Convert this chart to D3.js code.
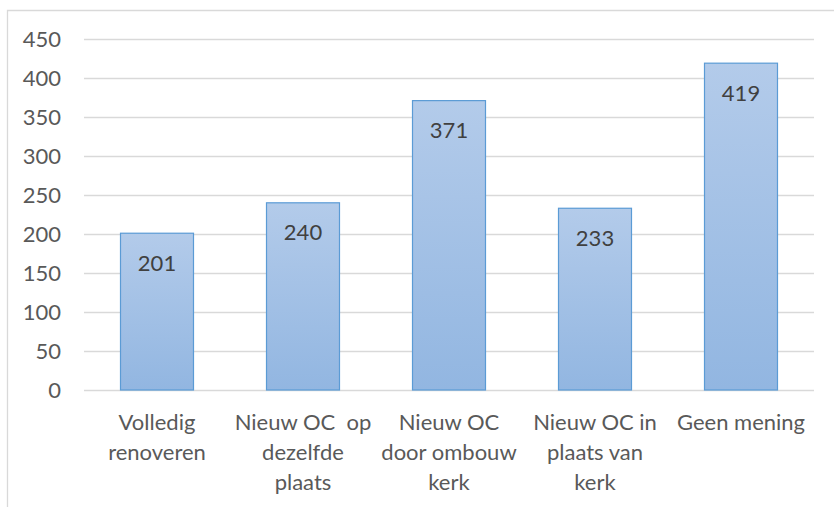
<!DOCTYPE html>
<html lang="nl">
	<head>
		<meta charset="utf-8">
		<title>Bar chart</title>
		<script src="https://cdn.jsdelivr.net/npm/d3@7"></script>
		<style>
			body { margin: 0; background: #fff; }
			text { font-family: Lato, "Open Sans", sans-serif; white-space: pre; }
		</style>
	</head>
	<body>
		<script>
			//Data
			var categories = ["Volledig renoveren", "Nieuw OC  op dezelfde plaats", "Nieuw OC door ombouw kerk", "Nieuw OC in plaats van kerk", "Geen mening"];
			var labelLines = [["Volledig", "renoveren"], ["Nieuw OC  op", "dezelfde", "plaats"], ["Nieuw OC", "door ombouw", "kerk"], ["Nieuw OC in", "plaats van", "kerk"], ["Geen mening"]];
			var values = [201, 240, 371, 233, 419];
			var yTicks = [0, 50, 100, 150, 200, 250, 300, 350, 400, 450];

			var w = 834, h = 507;
			var plotLeft = 84, plotRight = 814, plotTop = 39, plotBottom = 390;

			var svg = d3.select("body").append("svg")
				.attr("width", w)
				.attr("height", h);

			//Chart border (cropped at right and bottom)
			svg.append("path")
				.attr("d", "M7.5," + h + "V10.5H" + w)
				.attr("fill", "none")
				.attr("stroke", "#d9d9d9")
				.attr("stroke-width", 1.3);

			var grad = svg.append("defs").append("linearGradient")
				.attr("id", "barGrad")
				.attr("x1", 0).attr("y1", 0).attr("x2", 0).attr("y2", 1);
			grad.append("stop").attr("offset", "0%").attr("stop-color", "#b3cbea");
			grad.append("stop").attr("offset", "100%").attr("stop-color", "#92b6e1");

			var xScale = d3.scaleBand()
				.domain(categories)
				.range([plotLeft, plotRight])
				.paddingInner(0.5)
				.paddingOuter(0.25);

			var yScale = d3.scaleLinear()
				.domain([0, 450])
				.range([plotBottom, plotTop]);

			//Gridlines
			svg.append("g")
				.selectAll("line")
				.data(yTicks)
				.enter()
				.append("line")
				.attr("x1", plotLeft)
				.attr("x2", plotRight)
				.attr("y1", function(d) { return Math.round(yScale(d)) + 0.5; })
				.attr("y2", function(d) { return Math.round(yScale(d)) + 0.5; })
				.attr("stroke", "#d9d9d9")
				.attr("stroke-width", 1.3);

			//Y axis labels
			var yAxis = d3.axisLeft(yScale)
				.tickValues(yTicks)
				.tickSize(0)
				.tickPadding(0);
			var yg = svg.append("g")
				.attr("transform", "translate(61,0)")
				.call(yAxis);
			yg.select(".domain").remove();
			yg.selectAll("text")
				.attr("font-size", "22px")
				.attr("font-family", "Lato, sans-serif")
				.attr("fill", "#595959");

			//Bars
			svg.selectAll("rect.bar")
				.data(values)
				.enter()
				.append("rect")
				.attr("class", "bar")
				.attr("x", function(d, i) { return xScale(categories[i]); })
				.attr("y", function(d) { return yScale(d); })
				.attr("width", xScale.bandwidth())
				.attr("height", function(d) { return yScale(0) - yScale(d); })
				.attr("fill", "url(#barGrad)")
				.attr("stroke", "#5b9bd5")
				.attr("stroke-width", 1.2);

			//Value labels
			svg.selectAll("text.val")
				.data(values)
				.enter()
				.append("text")
				.attr("class", "val")
				.text(function(d) { return d; })
				.attr("text-anchor", "middle")
				.attr("dominant-baseline", "central")
				.attr("x", function(d, i) { return xScale(categories[i]) + xScale.bandwidth() / 2; })
				.attr("y", function(d) { return yScale(d) + 29; })
				.attr("font-size", "22px")
				.attr("fill", "#404040");

			//Category labels
			var cats = svg.selectAll("text.cat")
				.data(labelLines)
				.enter()
				.append("text")
				.attr("class", "cat")
				.attr("text-anchor", "middle")
				.attr("font-size", "22px")
				.attr("fill", "#595959");
			cats.selectAll("tspan")
				.data(function(d, i) { return d.map(function(s) { return { s: s, i: i }; }); })
				.enter()
				.append("tspan")
				.attr("x", function(d) { return xScale(categories[d.i]) + xScale.bandwidth() / 2; })
				.attr("y", function(d, j) { return 421 + j * 30; })
				.attr("dominant-baseline", "central")
				.text(function(d) { return d.s; });
		</script>
	</body>
</html>
